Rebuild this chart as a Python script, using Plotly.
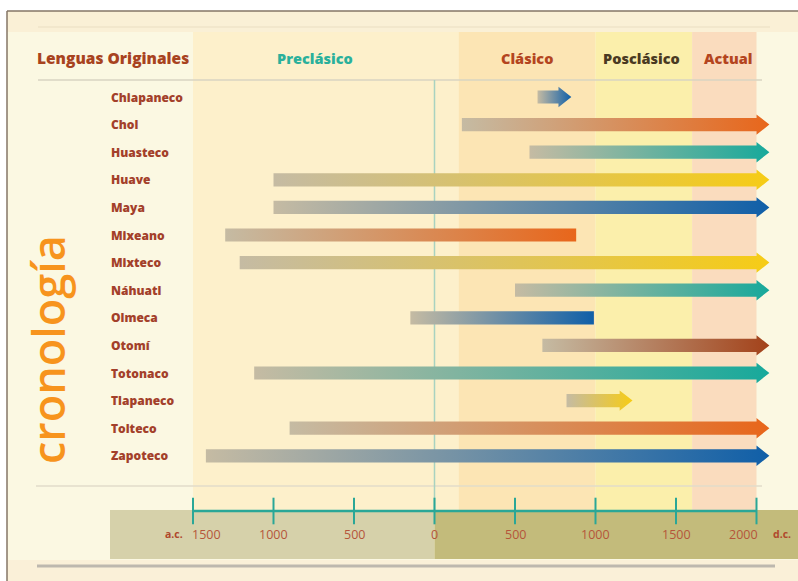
import plotly.graph_objects as go

# ---------------- data ----------------
languages = ["Chiapaneco", "Chol", "Huasteco", "Huave", "Maya", "Mixeano", "Mixteco",
             "Náhuatl", "Olmeca", "Otomí", "Totonaco", "Tlapaneco", "Tolteco", "Zapoteco"]
start_year = [640, 170, 590, -1000, -1000, -1300, -1210, 500, -150, 670, -1120, 820, -900, -1420]
end_year = [770, 2000, 2000, 2000, 2000, 880, 2000, 2000, 990, 2000, 2000, 1150, 2000, 2000]
has_arrow = [True, True, True, True, True, False, True, True, False, True, True, True, True, True]
end_color = ["#105FA8", "#E8661B", "#17A99B", "#F6CC16", "#105FA8", "#E8661B", "#F6CC16",
             "#17A99B", "#105FA8", "#A3421A", "#17A99B", "#F6CC16", "#E8661B", "#105FA8"]
start_color = "#C5BBA3"

periods = ["Preclásico", "Clásico", "Posclásico", "Actual"]
period_start = [-1500, 150, 1000, 1600]
period_end = [150, 1000, 1600, 2000]
period_fill = ["#FDF0CB", "#FCE5B4", "#FBEFAB", "#FADCBE"]
period_text_color = ["#2BB09B", "#B4451F", "#4A3A22", "#B4451F"]

tick_years = [-1500, -1000, -500, 0, 500, 1000, 1500, 2000]
tick_text = ["1500", "1000", "500", "0", "500", "1000", "1500", "2000"]

# ---------------- geometry helpers ----------------
W, H = 798, 581
PX_PER_YEAR = 0.161
X0 = -434.5 / PX_PER_YEAR
X1 = X0 + W / PX_PER_YEAR
ROW0, ROWSTEP = 97.0, 27.6
Y_TOP = -ROW0 / ROWSTEP
Y_BOT = (H - ROW0) / ROWSTEP


def px(xp):
    return xp / W


def py(yp):
    return 1 - yp / H


HEAD = 80
BODY = 0.24
HEADH = 0.37

fig = go.Figure()

for i, (name, s, e, arr, col) in enumerate(zip(languages, start_year, end_year, has_arrow, end_color)):
    if arr:
        xs = [s, e, e, e + HEAD, e, e, s, s]
        ys = [i - BODY, i - BODY, i - HEADH, i, i + HEADH, i + BODY, i + BODY, i - BODY]
    else:
        xs = [s, e, e, s, s]
        ys = [i - BODY, i - BODY, i + BODY, i + BODY, i - BODY]
    fig.add_trace(go.Scatter(
        x=xs, y=ys, mode="lines", fill="toself",
        line=dict(width=0, color=col),
        fillgradient=dict(type="horizontal", colorscale=[[0, start_color], [1, col]]),
        hoverinfo="text", text=name, showlegend=False,
    ))

# axis tick marks
AXIS_ROW = (511 - ROW0) / ROWSTEP
fig.add_trace(go.Scatter(
    x=tick_years, y=[AXIS_ROW] * len(tick_years), mode="markers",
    marker=dict(symbol="line-ns", size=19, line=dict(width=2, color="#2AA797")),
    hoverinfo="skip", showlegend=False,
))

shapes = []
# page background & frame
shapes.append(dict(type="rect", xref="paper", yref="paper", x0=px(7), x1=1, y0=0, y1=py(11),
                   fillcolor="#FBF8E2", line=dict(width=0), layer="below"))
shapes.append(dict(type="rect", xref="paper", yref="paper", x0=px(7), x1=1, y0=py(11), y1=py(32),
                   fillcolor="#FAF0D6", line=dict(width=0), layer="below"))
shapes.append(dict(type="rect", xref="paper", yref="paper", x0=px(7), x1=1, y0=0, y1=py(560),
                   fillcolor="#FAF0D8", line=dict(width=0), layer="below"))
# period bands
for ps, pe, pf in zip(period_start, period_end, period_fill):
    shapes.append(dict(type="rect", xref="x", yref="paper", x0=ps, x1=pe, y0=py(510), y1=py(32),
                       fillcolor=pf, line=dict(width=0), layer="below"))
# horizontal guide lines
shapes.append(dict(type="line", xref="paper", yref="paper", x0=px(38), x1=px(770), y0=py(27), y1=py(27),
                   line=dict(color="#EFE4C9", width=1.5), layer="below"))
shapes.append(dict(type="line", xref="paper", yref="paper", x0=px(38), x1=px(762), y0=py(80), y1=py(80),
                   line=dict(color="#D9D4C2", width=1.5), layer="below"))
shapes.append(dict(type="line", xref="paper", yref="paper", x0=px(36), x1=px(762), y0=py(486), y1=py(486),
                   line=dict(color="#E2DDCA", width=1.5), layer="below"))
# zero line
shapes.append(dict(type="line", xref="x", yref="paper", x0=0, x1=0, y0=py(510), y1=py(80),
                   line=dict(color="#A9D2C0", width=1.5), layer="below"))
# bottom axis band
shapes.append(dict(type="rect", xref="paper", yref="paper", x0=px(110), x1=px(434.5), y0=py(559), y1=py(510),
                   fillcolor="#D6D1AA", line=dict(width=0), layer="below"))
shapes.append(dict(type="rect", xref="x", yref="paper", x0=0, x1=X1, y0=py(559), y1=py(510),
                   fillcolor="#C3BB7B", line=dict(width=0), layer="below"))
# axis line
shapes.append(dict(type="line", xref="x", yref="y", x0=tick_years[0], x1=tick_years[-1],
                   y0=AXIS_ROW, y1=AXIS_ROW, line=dict(color="#2AA797", width=2.5)))
# bottom gray bar
shapes.append(dict(type="line", xref="paper", yref="paper", x0=px(37), x1=px(775), y0=py(566), y1=py(566),
                   line=dict(color="#BDB8AE", width=3), layer="below"))
# frame
shapes.append(dict(type="line", xref="paper", yref="paper", x0=px(7), x1=1, y0=py(11), y1=py(11),
                   line=dict(color="#857666", width=1.5)))
shapes.append(dict(type="line", xref="paper", yref="paper", x0=px(7), x1=px(7), y0=0, y1=py(11),
                   line=dict(color="#857666", width=1.5)))

annotations = []
FONT = "Open Sans"
annotations.append(dict(text="Lenguas Originales", xref="paper", yref="paper", x=px(113), y=py(58),
                        showarrow=False, xanchor="center", yanchor="middle",
                        font=dict(family=FONT, size=15.5, color="#A8431F", weight=800)))
period_label_x = [315, 527, 641, 728]
for name, lx, tc in zip(periods, period_label_x, period_text_color):
    annotations.append(dict(text=name, xref="paper", yref="paper", x=px(lx), y=py(58),
                            showarrow=False, xanchor="center", yanchor="middle",
                            font=dict(family=FONT, size=14.5, color=tc, weight=800)))
for i, name in enumerate(languages):
    annotations.append(dict(text=name, xref="paper", yref="y", x=px(109), y=i,
                            showarrow=False, xanchor="left", yanchor="middle",
                            font=dict(family=FONT, size=12, color="#A3402A", weight=800)))
for k, (yv, lab) in enumerate(zip(tick_years, tick_text)):
    anchor = "left" if k == 0 else ("right" if k == len(tick_years) - 1 else "center")
    annotations.append(dict(text=lab, xref="x", yref="paper", x=yv, y=py(534),
                            showarrow=False, xanchor=anchor, yanchor="middle", xshift=-3 if k == 0 else (3 if anchor == "right" else 0),
                            font=dict(family=FONT, size=12.5, color="#B5553A")))
annotations.append(dict(text="a.c.", xref="paper", yref="paper", x=px(174), y=py(534),
                        showarrow=False, xanchor="center", yanchor="middle",
                        font=dict(family=FONT, size=10.5, color="#B0482C", weight="bold")))
annotations.append(dict(text="d.c.", xref="paper", yref="paper", x=px(782), y=py(534),
                        showarrow=False, xanchor="center", yanchor="middle",
                        font=dict(family=FONT, size=10.5, color="#B0482C", weight="bold")))
annotations.append(dict(text="cronología", xref="paper", yref="paper", x=px(47), y=py(350),
                        showarrow=False, xanchor="center", yanchor="middle", textangle=-90,
                        font=dict(family="Open Sans", size=45, color="#F7941D", weight=600)))

fig.update_layout(
    width=W, height=H, margin=dict(l=0, r=0, t=0, b=0),
    paper_bgcolor="#FFFFFF", plot_bgcolor="rgba(0,0,0,0)",
    xaxis=dict(range=[X0, X1], visible=False, fixedrange=True),
    yaxis=dict(range=[Y_BOT, Y_TOP], visible=False, fixedrange=True),
    shapes=shapes, annotations=annotations, showlegend=False,
)

fig.write_html("out.html")
